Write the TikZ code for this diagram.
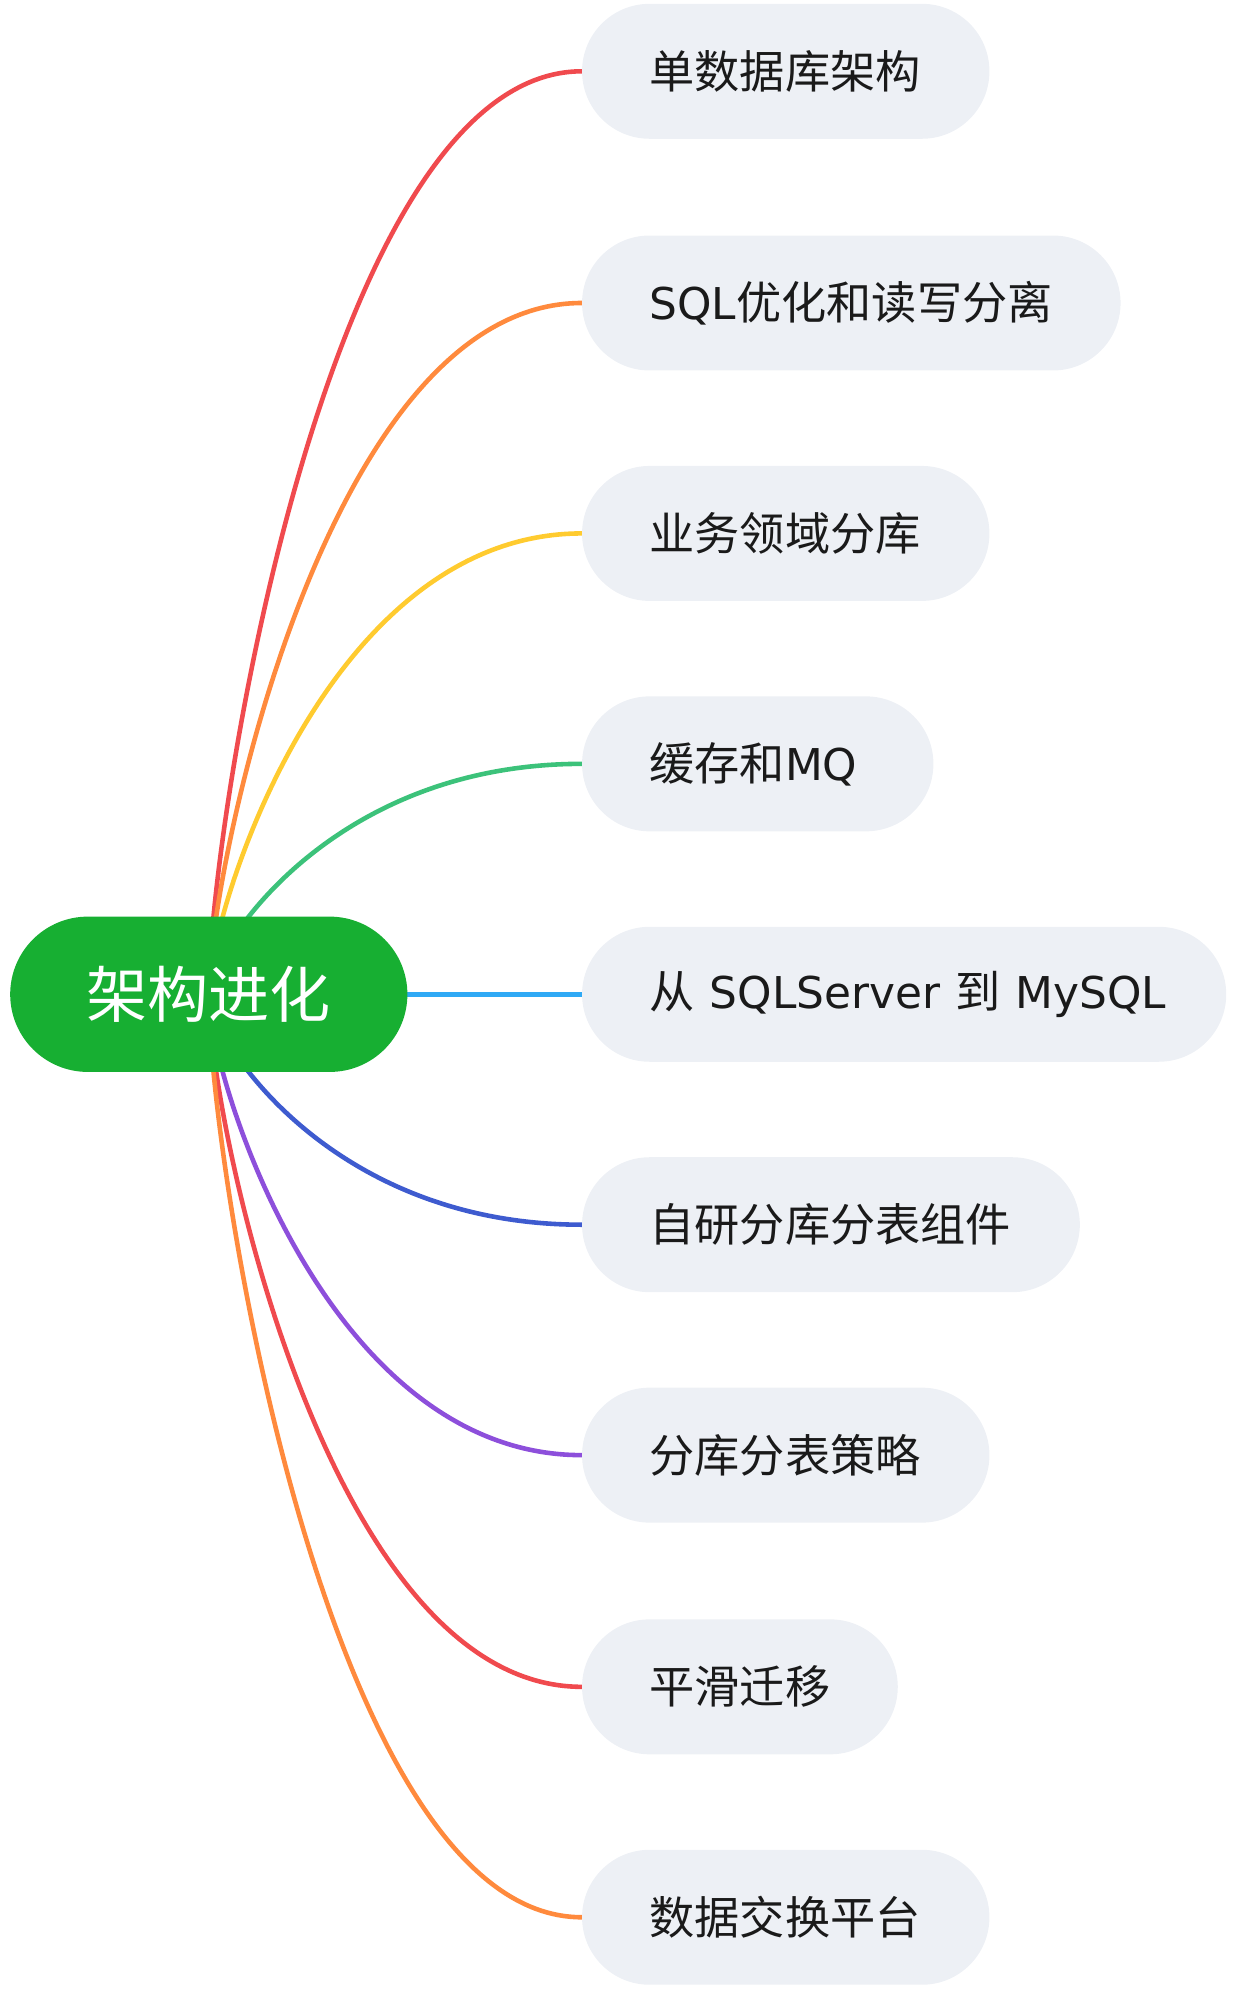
\documentclass[tikz,border=0pt]{standalone}
\usepackage{fontspec}
\setmainfont{Noto Sans CJK SC}
\newfontfamily\lat[Scale=0.97]{DejaVu Sans}
\usetikzlibrary{calc}
\definecolor{cred}{HTML}{F04A4E}
\definecolor{corange}{HTML}{FF8A3D}
\definecolor{cyellow}{HTML}{FFCB2F}
\definecolor{cgreen}{HTML}{3CC27A}
\definecolor{csky}{HTML}{2FA9F5}
\definecolor{cblue}{HTML}{3E5BCF}
\definecolor{cpurple}{HTML}{8D4FDB}
\definecolor{nodefill}{HTML}{EDF0F5}
\definecolor{rootfill}{HTML}{17AF32}
\definecolor{txt}{HTML}{1A1A1A}
\tikzset{
  x=1pt,y=1pt,
  rootbox/.style={fill=rootfill, rounded corners=61pt, minimum width=312pt, minimum height=122pt,
    inner sep=0pt, text=white, font=\fontsize{48}{52}\selectfont},
  childbox/.style={fill=nodefill, rounded corners=53pt, minimum height=106pt, inner xsep=53pt,
    inner ysep=0pt, anchor=west, align=left, text=txt, font=\fontsize{35.5}{40}\selectfont},
  link/.style={line width=3.6pt},
}
\newcommand{\branch}[2]{%
  \draw[link,#1] (root.center) .. controls ($(root.center)!0.175!(root.center |- #2.west)$)
    and ($(#2.west)!0.685!(#2.west -| root.center)$) .. (#2.west);}
\begin{document}
\begin{tikzpicture}
\useasboundingbox (0,0) rectangle (975,-1571);
\node[childbox, text width=214pt] (c1) at (457,-56) {\mbox{单数据库架构}};
\node[childbox, text width=317pt] (c2) at (457,-238) {\mbox{{\lat SQL}优化和读写分离}};
\node[childbox, text width=214pt] (c3) at (457,-419) {\mbox{业务领域分库}};
\node[childbox, text width=170pt] (c4) at (457,-600) {\mbox{缓存和{\lat MQ}}};
\node[childbox, text width=400pt] (c5) at (457,-781) {\mbox{从 {\lat SQLServer} 到 {\lat MySQL}}};
\node[childbox, text width=285pt] (c6) at (457,-962) {\mbox{自研分库分表组件}};
\node[childbox, text width=214pt] (c7) at (457,-1143) {\mbox{分库分表策略}};
\node[childbox, text width=142pt] (c8) at (457,-1325) {\mbox{平滑迁移}};
\node[childbox, text width=214pt] (c9) at (457,-1506) {\mbox{数据交换平台}};
\node[rootbox, draw=none, fill=none] (root) at (164,-781) {};
\branch{cred}{c1}
\branch{corange}{c2}
\branch{cyellow}{c3}
\branch{cgreen}{c4}
\branch{cblue}{c6}
\branch{cpurple}{c7}
\branch{cred}{c8}
\branch{corange}{c9}
\draw[link,csky] (root.center) -- (c5.west);
\node[rootbox] (rootvis) at (root.center) {架构进化};
\end{tikzpicture}
\end{document}
